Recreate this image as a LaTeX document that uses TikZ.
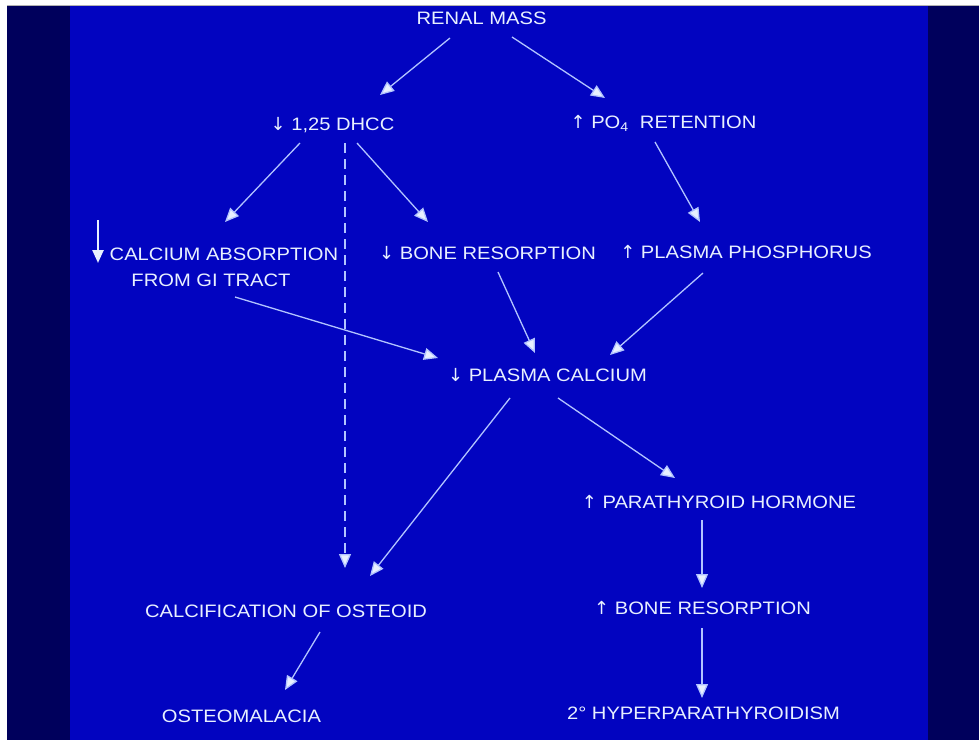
\documentclass[tikz,border=0pt]{standalone}
\usepackage{fontspec}
\setmainfont{Liberation Sans}[FakeStretch=1.12]
\newfontfamily\arrfont{DejaVu Sans}
\usetikzlibrary{arrows.meta,calc}
\definecolor{bgblue}{RGB}{2,4,192}
\definecolor{navy}{RGB}{0,0,92}
\definecolor{txt}{RGB}{232,240,255}
\definecolor{ln}{RGB}{178,196,255}
\newcommand{\dn}{{\arrfont\char"2193}}
\newcommand{\upa}{{\arrfont\char"2191}}
\tikzset{
  lbl/.style={text=txt, inner sep=0pt, text height=13pt, text depth=0pt, font=\fontsize{18}{21}\selectfont},
  arr/.style={draw=ln, line width=1.3pt, -{Triangle[length=14pt,width=12pt,fill=txt]}},
  dasharr/.style={arr, dash pattern=on 10pt off 6pt},
  bigarr/.style={draw=txt, line width=2.4pt, -{Triangle[length=13pt,width=11pt,fill=txt]}}
}
\begin{document}
\begin{tikzpicture}[x=1pt,y=-1pt]
\useasboundingbox (0,0) rectangle (979,740);
\fill[white] (0,0) rectangle (979,740);
\fill[navy] (7,6) rectangle (979,740);
\fill[bgblue] (70,6) rectangle (928,740);
\draw[gray!60, line width=0.8pt] (7,5.5) -- (979,5.5);

\node[lbl] (renal) at (481.5,18) {RENAL MASS};
\node[lbl] (dhcc) at (332.5,124) {\dn\ 1,25 DHCC};
\node[lbl] (po4) at (663.5,122) {\upa\ PO\textsubscript{4}\ \ RETENTION};
\node[lbl] (calabs) at (224,254) {CALCIUM ABSORPTION};
\node[lbl] (calabs2) at (211,280) {FROM GI TRACT};
\node[lbl] (boneres) at (487.5,253) {\dn\ BONE RESORPTION};
\node[lbl] (plphos) at (746,252) {\upa\ PLASMA PHOSPHORUS};
\node[lbl] (plca) at (547.5,375) {\dn\ PLASMA CALCIUM};
\node[lbl] (pth) at (719,502) {\upa\ PARATHYROID HORMONE};
\node[lbl] (calcif) at (286,611) {CALCIFICATION OF OSTEOID};
\node[lbl] (boneup) at (702.5,608) {\upa\ BONE RESORPTION};
\node[lbl] (osteo) at (241.5,716) {OSTEOMALACIA};
\node[lbl] (hyper) at (703.5,713) {2\textdegree\ HYPERPARATHYROIDISM};

\draw[bigarr] ($(calabs)+(-126,-34)$) -- ($(calabs)+(-126,9)$);

\draw[arr] ($(renal)+(-31.5,20)$) -- ($(dhcc)+(47.5,-29)$);
\draw[arr] ($(renal)+(30.5,19)$) -- ($(po4)+(-58.5,-24)$);
\draw[arr] ($(dhcc)+(-32.5,19)$) -- ($(calabs)+(1,-32)$);
\draw[arr] ($(dhcc)+(24.5,19)$) -- ($(boneres)+(-59.5,-31)$);
\draw[dasharr] ($(dhcc)+(12.5,19)$) -- ($(calcif)+(59,-43)$);
\draw[arr] ($(po4)+(-8.5,20)$) -- ($(plphos)+(-46,-30)$);
\draw[arr] ($(calabs2)+(24,17)$) -- ($(plca)+(-109.5,-17)$);
\draw[arr] ($(boneres)+(10.5,19)$) -- ($(plca)+(-12.5,-22)$);
\draw[arr] ($(plphos)+(-43,21)$) -- ($(plca)+(62.5,-20)$);
\draw[arr] ($(plca)+(-37.5,23)$) -- ($(calcif)+(84,-35)$);
\draw[arr] ($(plca)+(10.5,23)$) -- ($(pth)+(-44,-24)$);
\draw[arr] ($(pth)+(-17,18)$) -- ($(boneup)+(-0.5,-20)$);
\draw[arr] ($(boneup)+(-0.5,20)$) -- ($(hyper)+(-1.5,-15)$);
\draw[arr] ($(calcif)+(34,21)$) -- ($(osteo)+(43.5,-26)$);
\end{tikzpicture}
\end{document}
